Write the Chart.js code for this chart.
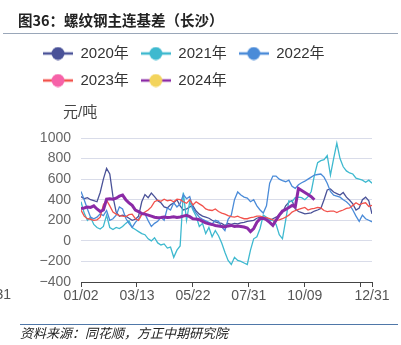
<!DOCTYPE html>
<html lang="zh">
<head>
<meta charset="UTF-8">
<title>螺纹钢主连基差（长沙）</title>
<script src="https://cdn.jsdelivr.net/npm/chart.js"></script>
<style>
    body {
        margin: 0;
        background: #fff;
        font-family: "Noto Sans CJK SC", sans-serif;
    }
    .page {
        position: relative;
        width: 401px;
        height: 345px;
        overflow: hidden;
    }
    #chart {
        position: absolute;
        left: 0;
        top: 0;
    }
    .title {
        position: absolute;
        left: 18px;
        top: 9px;
        font-size: 14.5px;
        font-weight: bold;
        line-height: 22px;
        color: #222;
    }
    .rule-top {
        position: absolute;
        left: 3px;
        right: 3px;
        top: 33px;
        height: 1px;
        background: #9aa7b9;
    }
    .rule-bottom {
        position: absolute;
        left: 20px;
        right: 3px;
        top: 324px;
        height: 1px;
        background: #4f77a8;
    }
    .source {
        position: absolute;
        left: 20px;
        top: 324px;
        font-size: 13px;
        font-style: italic;
        line-height: 18px;
        color: #222;
    }
</style>
</head>
<body>
<div class="page">
    <canvas id="chart" width="401" height="345"></canvas>
    <div class="title">图36：螺纹钢主连基差（长沙）</div>
    <div class="rule-top"></div>
    <div class="rule-bottom"></div>
    <div class="source">资料来源：同花顺，方正中期研究院</div>
</div>

<script>
    // day offsets from 01/02, sampled every 4 days up to 12/31
    const days = [];
    for (let d = 0; d <= 364; d += 4) days.push(d);

    const tickDays = [0, 70, 140, 210, 280, 350, 364];
    const tickLabels = ["01/02", "03/13", "05/22", "07/31", "10/09", "", "12/31"];
    const yTicks = { min: -400, max: 1000, step: 200 };
    const unitLabel = "元/吨";

    const seriesNames = ["2020年", "2021年", "2022年", "2023年", "2024年"];

    // basis, yuan/ton
    const basis2020 = [
        430, 410, 420, 400, 390, 380, 470, 600, 705, 650,
        430, 280, 240, 250, 240, 220, 200, 210, 240, 380,
        450, 420, 465, 430, 390, 370, 330, 320, 350, 370,
        400, 340, 300, 310, 330, 340, 290, 260, 240, 230,
        220, 200, 185, 175, 170, 150, 170, 160, 170, 165,
        175, 180, 190, 195, 200, 220, 230, 215, 205, 200,
        215, 230, 250, 275, 340, 375, 390, 310, 285, 275,
        262, 268, 272, 290, 300, 315, 400, 495, 505, 475,
        460, 445, 470, 425, 395, 360, 300, 320, 400, 425,
        390, 262
    ];
    const basis2021 = [
        380, 270, 200, 230, 160, 130, 115, 140, 250, 130,
        110, 130, 120, 140, 170, 195, 130, 110, 90, 70,
        60, 20, 0, 30, -20, -40, -30, -70, -60, -160,
        -90, -50, 470, 200, 380, 300, 240, 140, 170, 70,
        130, 40, 100, 50, -20, -110, -190, -230, -160, -190,
        -200, -215, -230, -90, 20, 40, 120, 250, 230, 200,
        200, 160, 60, 20, 200, 390, 380, 420, 425, 420,
        400, 430, 480, 640, 760, 780, 790, 830, 640, 800,
        950, 800, 720, 680, 660, 650, 610, 600, 590, 570,
        590, 560
    ];
    const basis2022 = [
        480, 400, 310, 230, 215, 230, 262, 246, 295, 200,
        215, 250, 330, 310, 220, 170, 131, 180, 213, 262,
        262, 197, 140, 170, 190, 230, 200, 320, 300, 370,
        330, 360, 450, 410, 430, 320, 270, 230, 210, 195,
        180, 165, 200, 190, 135, 100, 210, 250, 400, 475,
        445, 425, 415, 380, 400, 340, 300, 270, 340, 560,
        630, 630, 600, 585, 575, 590, 530, 510, 545, 565,
        580, 600, 620, 640, 645, 650, 620, 560, 480, 445,
        435, 425, 400, 380, 350, 300, 240, 190, 250, 215,
        200, 185
    ];
    const basis2023 = [
        300, 240, 215, 210, 200, 205, 230, 350, 395, 340,
        280, 260, 245, 240, 235, 255, 260, 215, 200, 255,
        280, 300, 330, 380, 395, 385, 405, 390, 395, 380,
        405, 400, 380, 365, 400, 350, 380, 360, 340, 310,
        300, 295, 310, 285, 270, 260, 245, 235, 230, 240,
        225, 215, 215, 225, 230, 240, 240, 230, 225, 215,
        205, 200, 205, 215, 230, 250, 280, 295, 305, 315,
        325, 300, 310, 315, 325, 320, 295, 285, 290, 290,
        275, 290, 300, 315, 320, 345, 370, 350, 365, 370,
        335, 345
    ];
    const basis2024 = [
        315, 320, 330, 325, 340, 310, 285, 300, 405, 410,
        405, 415, 435, 445, 400, 370, 345, 300, 285, 265,
        260, 250, 240, 230, 225, 228, 232, 228, 230, 235,
        228, 232, 240, 248, 235, 215, 212, 205, 190, 175,
        165, 160, 150, 145, 140, 135, 145, 150, 140, 145,
        140, 135, 125, 90, 120, 180, 215, 220, 205, 180,
        150, 200, 250, 290, 305, 325, 345, 330, 510, 490,
        470, 450, 430, 400
    ];

    const lineColors = ["#4a5298", "#3eb9cf", "#4a8bd8", "#f2524c", "#8b2aa6"];
    const dotColors = ["#4a5298", "#3eb9cf", "#4a8bd8", "#f662a8", "#f3d45c"];
    const lineWidths = [1.3, 1.3, 1.3, 1.3, 3];

    const fontFamily = "'Liberation Sans', 'Noto Sans CJK SC', sans-serif";

    // small line-with-dot icon for the legend
    function legendMarker(line, dot) {
        const c = document.createElement("canvas");
        c.width = 30;
        c.height = 14;
        const g = c.getContext("2d");
        g.strokeStyle = line;
        g.lineWidth = 2.5;
        g.beginPath();
        g.moveTo(0, 7);
        g.lineTo(30, 7);
        g.stroke();
        g.fillStyle = dot;
        g.beginPath();
        g.arc(15, 7, 6.5, 0, Math.PI * 2);
        g.fill();
        return c;
    }

    const allSeries = [basis2020, basis2021, basis2022, basis2023, basis2024];
    const datasets = allSeries.map((values, i) => ({
        label: seriesNames[i],
        data: values,
        borderColor: lineColors[i],
        borderWidth: lineWidths[i],
        pointRadius: 0,
        pointHoverRadius: 0,
        pointStyle: legendMarker(lineColors[i], dotColors[i]),
        tension: 0,
        fill: false,
        // later years are painted over earlier ones
        order: allSeries.length - i
    }));

    // leave room under the legend for the unit label
    const legendGap = {
        id: "legendGap",
        afterInit(chart) {
            const legend = chart.legend;
            const fit = legend.fit;
            legend.fit = function () {
                fit.call(this);
                this.height += 40;
            };
        }
    };

    const extraText = {
        id: "extraText",
        afterDraw(chart) {
            const ctx = chart.ctx;
            const area = chart.chartArea;
            ctx.save();
            ctx.textBaseline = "middle";
            ctx.fillStyle = "#444";
            ctx.font = "15px " + fontFamily;
            ctx.fillText(unitLabel, area.left - 18, area.top - 25);
            // previous-period date label cut off at the left edge
            ctx.fillStyle = "#555";
            ctx.font = "14px " + fontFamily;
            ctx.textAlign = "right";
            ctx.fillText("12/31", 11, area.bottom + 13.5);
            ctx.restore();
        }
    };

    new Chart(document.getElementById("chart"), {
        type: "line",
        data: { labels: days, datasets: datasets },
        plugins: [legendGap, extraText],
        options: {
            responsive: false,
            animation: false,
            devicePixelRatio: 1,
            layout: { padding: { top: 34, left: 31, right: 29, bottom: 39 } },
            plugins: {
                tooltip: { enabled: false },
                legend: {
                    position: "top",
                    align: "start",
                    labels: {
                        usePointStyle: true,
                        pointStyleWidth: 30,
                        padding: 12,
                        color: "#333",
                        font: { family: fontFamily, size: 15 },
                        sort: (a, b) => a.datasetIndex - b.datasetIndex
                    }
                }
            },
            scales: {
                x: {
                    type: "linear",
                    min: 0,
                    max: 364,
                    afterBuildTicks: scale => {
                        scale.ticks = tickDays.map(v => ({ value: v }));
                    },
                    afterFit: scale => { scale.height = 24; },
                    ticks: {
                        autoSkip: false,
                        maxRotation: 0,
                        padding: 1,
                        color: "#555",
                        font: { family: fontFamily, size: 14 },
                        callback: value => tickLabels[tickDays.indexOf(value)]
                    },
                    grid: {
                        drawOnChartArea: false,
                        drawTicks: true,
                        tickLength: 5,
                        color: "#444"
                    },
                    border: { display: true, color: "#444", width: 1 }
                },
                y: {
                    min: yTicks.min,
                    max: yTicks.max,
                    afterFit: scale => { scale.width = 50; },
                    ticks: {
                        stepSize: yTicks.step,
                        padding: 10,
                        color: "#666",
                        font: { family: fontFamily, size: 14 },
                        callback: v => String(v).replace("-", "\u2212")
                    },
                    grid: {
                        drawTicks: false,
                        color: "#d9dce9",
                        lineWidth: 1
                    },
                    border: { display: false }
                }
            }
        }
    });
</script>
</body>
</html>
